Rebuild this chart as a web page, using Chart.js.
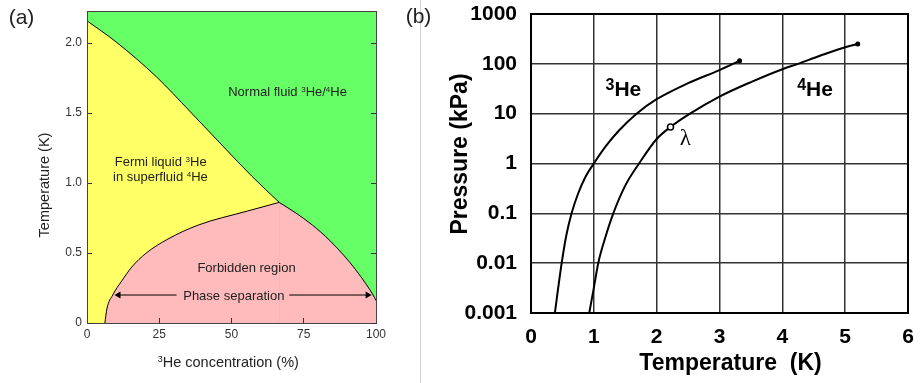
<!DOCTYPE html>
<html>
<head>
<meta charset="utf-8">
<script src="https://cdn.jsdelivr.net/npm/chart.js@4.4.1/dist/chart.umd.min.js"></script>
<style>
body { margin: 0; background: #fff; }
#wrap { position: relative; width: 920px; height: 383px; overflow: hidden; }
#sep { position: absolute; left: 420px; top: 0; width: 1px; height: 383px; background: #d0d0d0; }
#phaseChart { position: absolute; left: 0; top: 0; }
#vaporChart { position: absolute; left: 400px; top: 0; }
</style>
</head>
<body>
<div id="wrap">
  <div id="sep"></div>
  <canvas id="phaseChart" width="400" height="383"></canvas>
  <canvas id="vaporChart" width="520" height="383"></canvas>
</div>
<script>
// (a) 3He/4He mixture phase diagram: x = 3He concentration (%), y = T (K)
const lambdaX = [0, 10, 24, 35.5, 47, 57, 66.5];
const lambdaT = [2.16, 2.01, 1.76, 1.515, 1.265, 1.05, 0.862];
const diluteX = [6.2, 6.87, 8.9, 12.0, 15.5, 20.5, 28, 38.5, 55.5, 66.5];
const diluteT = [0, 0.1, 0.2, 0.3, 0.4, 0.5, 0.6, 0.7, 0.8, 0.862];
const concX = [66.5, 72, 78, 84, 89, 93, 96.5, 99, 100];
const concT = [0.862, 0.79, 0.70, 0.59, 0.48, 0.38, 0.28, 0.2, 0.16];
const arrowT = 0.2;
const arrowLeftX = [10.9, 31];
const arrowRightX = [70, 97.1];
const concTicks = [0, 25, 50, 75, 100];
const concTickLabels = ['0', '25', '50', '75', '100'];
const tempTicks = [0, 0.5, 1.0, 1.5, 2.0];
const tempTickLabels = ['0', '0.5', '1.0', '1.5', '2.0'];

// (b) saturated vapour pressure of 3He and 4He
const he3T = [0.38, 0.43, 0.488, 0.56, 0.646, 0.75, 0.87, 1.0, 1.2, 1.4, 1.68, 2.0, 2.5, 3.0, 3.32];
const he3P = [0.001, 0.003, 0.01, 0.035, 0.1, 0.25, 0.55, 1.0, 2.3, 4.6, 10, 19.5, 41, 75, 115];
const he4T = [0.927, 1.0, 1.07, 1.18, 1.31, 1.5, 1.72, 2.0, 2.22, 2.53, 3.0, 3.5, 4.0, 4.25, 4.6, 5.0, 5.2];
const he4P = [0.001, 0.0032, 0.01, 0.032, 0.1, 0.36, 1.0, 3.1, 5.4, 10, 22, 43, 78, 100, 145, 215, 250];
const lambdaIndex = 8;
const kelvinTicks = [0, 1, 2, 3, 4, 5, 6];
const pressTicks = [0.001, 0.01, 0.1, 1, 10, 100, 1000];
const pressTickLabels = ['0.001', '0.01', '0.1', '1', '10', '100', '1000'];

const FONT = '"Liberation Sans", Arial, sans-serif';
Chart.defaults.font.family = FONT;

function toPoints(xs, ys) {
    return xs.map((v, i) => ({ x: v, y: ys[i] }));
}

// fixed axis sizes, no extra label padding pushed into the layout
function fixSize(pos, size) {
    return s => {
        if (pos === 'top' || pos === 'bottom') {
            s.height = size;
        } else {
            s.width = size;
        }
        s.paddingTop = 0;
        s.paddingBottom = 0;
        s.paddingLeft = 0;
        s.paddingRight = 0;
    };
}

// fill the plot area (like a canvas background, but only the chart area)
function areaBg(color) {
    return {
        id: 'areaBg',
        beforeDraw(chart) {
            const { ctx, chartArea: a } = chart;
            ctx.save();
            ctx.fillStyle = color;
            ctx.fillRect(a.left, a.top, a.right - a.left, a.bottom - a.top);
            ctx.restore();
        }
    };
}

// text with superscript runs; x/y in data units or px/py in canvas pixels
function textLabels(items) {
    return {
        id: 'textLabels',
        afterDraw(chart) {
            const ctx = chart.ctx;
            const xs = chart.scales.x, ys = chart.scales.y;
            items.forEach(item => {
                const px = item.px !== undefined ? item.px : xs.getPixelForValue(item.x);
                const py = item.py !== undefined ? item.py : ys.getPixelForValue(item.y);
                const weight = item.bold ? 'bold ' : '';
                const family = item.family || FONT;
                ctx.save();
                ctx.translate(px, py);
                if (item.rotate) ctx.rotate(item.rotate);
                ctx.fillStyle = item.color || '#000';
                ctx.textBaseline = 'alphabetic';
                ctx.textAlign = 'left';
                let total = 0;
                item.runs.forEach(r => {
                    ctx.font = weight + r[1] + 'px ' + family;
                    total += ctx.measureText(r[0]).width;
                });
                let cx = -total / 2;
                item.runs.forEach(r => {
                    ctx.font = weight + r[1] + 'px ' + family;
                    ctx.fillText(r[0], cx, r[2] || 0);
                    cx += ctx.measureText(r[0]).width;
                });
                ctx.restore();
            });
        }
    };
}

// ---------- (a) ----------
const phaseTexts = [
    { x: 69.4, y: 1.626, color: '#222', runs: [['Normal fluid ', 13], ['3', 8, -4], ['He/', 13], ['4', 8, -4], ['He', 13]] },
    { x: 25.5, y: 1.124, color: '#222', runs: [['Fermi liquid ', 13], ['3', 8, -4], ['He', 13]] },
    { x: 25.4, y: 1.012, color: '#222', runs: [['in superfluid ', 13], ['4', 8, -4], ['He', 13]] },
    { x: 55.2, y: 0.364, color: '#222', runs: [['Forbidden region', 13]] },
    { x: 50.8, y: 0.166, color: '#222', runs: [['Phase separation', 13]] },
    { px: 48.5, py: 185, rotate: -Math.PI / 2, color: '#222', runs: [['Temperature (K)', 14.5]] },
    { px: 228.3, py: 366.5, color: '#222', runs: [['3', 9, -5], ['He concentration (%)', 14.5]] },
    { px: 21.5, py: 24, color: '#222', runs: [['(a)', 21]] }
];

const edgeAxis = (pos, min, max, size) => ({
    type: 'linear', position: pos, min: min, max: max,
    ticks: { display: false },
    grid: { display: false },
    border: { color: '#444', width: 1, z: 1 },
    afterFit: fixSize(pos, size)
});

new Chart(document.getElementById('phaseChart'), {
    type: 'line',
    data: {
        datasets: [
            {
                label: 'Fermi liquid 3He in superfluid 4He',
                data: toPoints(lambdaX, lambdaT),
                fill: 'origin',
                backgroundColor: '#ffff66',
                borderColor: '#000',
                borderWidth: 1,
                pointRadius: 0,
                cubicInterpolationMode: 'monotone',
                order: 3
            },
            {
                label: 'Forbidden region (dilute side)',
                data: toPoints(diluteX, diluteT),
                fill: 'origin',
                backgroundColor: '#ffbbbb',
                borderColor: '#000',
                borderWidth: 1,
                pointRadius: 0,
                cubicInterpolationMode: 'monotone',
                order: 2
            },
            {
                label: 'Forbidden region (concentrated side)',
                data: toPoints(concX, concT),
                fill: 'origin',
                backgroundColor: '#ffbbbb',
                borderColor: '#000',
                borderWidth: 1,
                pointRadius: 0,
                cubicInterpolationMode: 'monotone',
                order: 2
            },
            {
                label: 'arrow left',
                data: arrowLeftX.map(v => ({ x: v, y: arrowT })),
                fill: false,
                borderColor: '#000',
                borderWidth: 1,
                pointStyle: 'triangle',
                pointRotation: -90,
                pointRadius: [4, 0],
                pointBackgroundColor: '#000',
                pointBorderWidth: 0,
                order: 1
            },
            {
                label: 'arrow right',
                data: arrowRightX.map(v => ({ x: v, y: arrowT })),
                fill: false,
                borderColor: '#000',
                borderWidth: 1,
                pointStyle: 'triangle',
                pointRotation: 90,
                pointRadius: [0, 4],
                pointBackgroundColor: '#000',
                pointBorderWidth: 0,
                order: 1
            }
        ]
    },
    options: {
        responsive: false,
        animation: false,
        events: [],
        layout: { padding: 0 },
        plugins: { legend: { display: false }, tooltip: { enabled: false } },
        scales: {
            x: {
                type: 'linear', position: 'bottom', min: 0, max: 100,
                afterBuildTicks: s => { s.ticks = concTicks.map(v => ({ value: v })); },
                afterFit: fixSize('bottom', 60),
                grid: { drawOnChartArea: false, tickLength: -5, color: '#333', z: 1 },
                border: { color: '#444', width: 1, z: 1 },
                ticks: { padding: 9, color: '#333', font: { size: 12 }, maxRotation: 0, callback: (v, i) => concTickLabels[i] }
            },
            x2: edgeAxis('top', 0, 100, 11),
            y: {
                type: 'linear', position: 'left', min: 0, max: 2.23,
                afterBuildTicks: s => { s.ticks = tempTicks.map(v => ({ value: v })); },
                afterFit: fixSize('left', 87),
                grid: { drawOnChartArea: false, tickLength: -5, color: '#333', z: 1 },
                border: { color: '#444', width: 1, z: 1 },
                ticks: { padding: 10, color: '#333', font: { size: 12 }, callback: (v, i) => tempTickLabels[i] }
            },
            y2: {
                type: 'linear', position: 'right', min: 0, max: 2.23,
                afterBuildTicks: s => { s.ticks = tempTicks.map(v => ({ value: v })); },
                afterFit: fixSize('right', 24),
                grid: { drawOnChartArea: false, tickLength: -5, color: '#333', z: 1 },
                border: { color: '#444', width: 1, z: 1 },
                ticks: { display: false }
            }
        }
    },
    plugins: [areaBg('#66ff66'), textLabels(phaseTexts)]
});

// ---------- (b) ----------
const vaporTexts = [
    { x: 1.47, y: 22.4, bold: true, runs: [['3', 16, -6.5], ['He', 21]] },
    { x: 4.52, y: 22.4, bold: true, runs: [['4', 16, -6.5], ['He', 21]] },
    { x: 2.456, y: 2.33, family: '"Liberation Serif", "DejaVu Serif", serif', runs: [['\u03bb', 23]] },
    { px: 67, py: 154, rotate: -Math.PI / 2, bold: true, runs: [['Pressure (kPa)', 23]] },
    { px: 330.5, py: 370, bold: true, runs: [['Temperature  (K)', 23]] },
    { px: 18.5, py: 22.5, color: '#222', runs: [['(b)', 21]] }
];

const frameAxis = (pos, size) => ({
    type: 'linear', position: pos, min: 0, max: 1,
    ticks: { display: false },
    grid: { display: false },
    border: { color: '#000', width: 2 },
    afterFit: fixSize(pos, size)
});

new Chart(document.getElementById('vaporChart'), {
    type: 'line',
    data: {
        datasets: [
            {
                label: '3He',
                data: toPoints(he3T, he3P),
                borderColor: '#000',
                borderWidth: 2,
                cubicInterpolationMode: 'monotone',
                pointRadius: he3T.map((t, i) => i === he3T.length - 1 ? 2.5 : 0),
                pointBackgroundColor: '#000',
                pointBorderWidth: 0,
                fill: false
            },
            {
                label: '4He',
                data: toPoints(he4T, he4P),
                borderColor: '#000',
                borderWidth: 2,
                cubicInterpolationMode: 'monotone',
                pointRadius: he4T.map((t, i) => i === lambdaIndex ? 3 : (i === he4T.length - 1 ? 2.5 : 0)),
                pointBackgroundColor: he4T.map((t, i) => i === lambdaIndex ? '#fff' : '#000'),
                pointBorderColor: '#000',
                pointBorderWidth: he4T.map((t, i) => i === lambdaIndex ? 1.5 : 0),
                fill: false
            }
        ]
    },
    options: {
        responsive: false,
        animation: false,
        events: [],
        layout: { padding: 0 },
        plugins: { legend: { display: false }, tooltip: { enabled: false } },
        scales: {
            x: {
                type: 'linear', position: 'bottom', min: 0, max: 6,
                afterBuildTicks: s => { s.ticks = kelvinTicks.map(v => ({ value: v })); },
                afterFit: fixSize('bottom', 70),
                grid: { color: '#333', lineWidth: 1.5, drawTicks: false },
                border: { color: '#000', width: 2 },
                ticks: { padding: 12, color: '#000', font: { size: 21, weight: 'bold' }, maxRotation: 0, callback: v => String(v) }
            },
            x2: frameAxis('top', 14),
            y: {
                type: 'logarithmic', position: 'left', min: 0.001, max: 1000,
                afterBuildTicks: s => { s.ticks = pressTicks.map(v => ({ value: v })); },
                afterFit: fixSize('left', 131),
                grid: { color: '#333', lineWidth: 1.5, drawTicks: false },
                border: { color: '#000', width: 2 },
                ticks: { padding: 14, color: '#000', font: { size: 21, weight: 'bold' }, callback: (v, i) => pressTickLabels[i] }
            },
            y2: frameAxis('right', 12)
        }
    },
    plugins: [textLabels(vaporTexts)]
});
</script>
</body>
</html>
